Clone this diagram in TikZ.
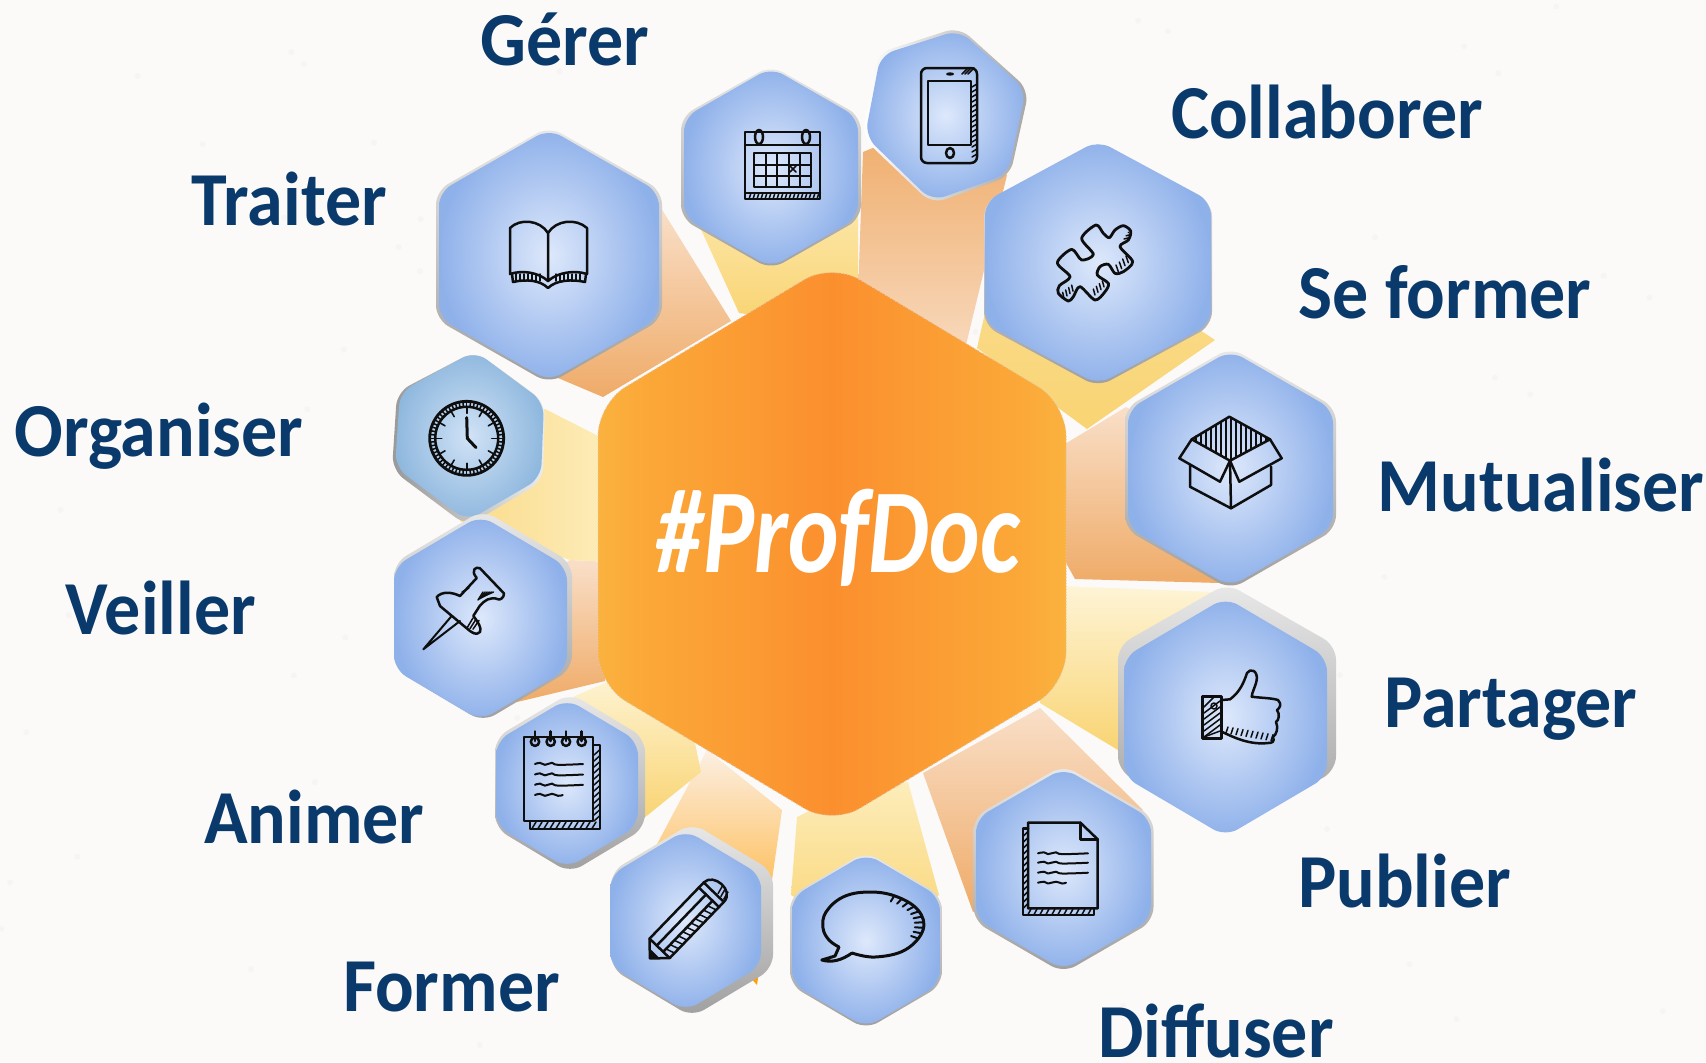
\documentclass[tikz,border=0pt]{standalone}
\usepackage{fontspec}
\usetikzlibrary{calc}
\setmainfont{Carlito}
\newfontfamily\proffont[ItalicFeatures={FakeSlant=0.1}]{Carlito}
\definecolor{bgc}{HTML}{FBFAF8}
\definecolor{labc}{HTML}{0A3A6B}
\definecolor{hexin}{HTML}{DDE8FB}
\definecolor{hexout}{HTML}{8FB1EA}
\definecolor{clockin}{HTML}{D0E2F6}
\definecolor{clockout}{HTML}{8FB8DE}
\definecolor{inkc}{HTML}{0E0E0E}
\definecolor{yA}{HTML}{FDEDBB}\definecolor{yB}{HTML}{F9D473}
\definecolor{pA}{HTML}{F9DFC8}\definecolor{pB}{HTML}{EFAB68}
\definecolor{coreA}{HTML}{FBB23E}\definecolor{coreB}{HTML}{FBA838}
\definecolor{coreC}{HTML}{FB9C33}\definecolor{coreD}{HTML}{FB8F2E}
\pgfdeclarehorizontalshading{coreshade}{100bp}{
  color(0bp)=(coreA);
  color(25bp)=(coreA);
  color(30bp)=(coreB);
  color(40bp)=(coreC);
  color(50bp)=(coreD);
  color(60bp)=(coreC);
  color(70bp)=(coreB);
  color(75bp)=(coreA);
  color(100bp)=(coreA)}
\newcommand{\hexpath}[4]{({#1},{#2-#4}) -- ({#1+#3},{#2-#4/2}) -- ({#1+#3},{#2+#4/2}) -- ({#1},{#2+#4}) -- ({#1-#3},{#2+#4/2}) -- ({#1-#3},{#2-#4/2}) -- cycle}
\tikzset{
  lab/.style={text=labc,font=\bfseries\fontsize{36}{36}\selectfont,anchor=base,inner sep=0pt,yscale=1.06},
  rim/.style={rounded corners=7pt,draw=none,top color=gray!18,bottom color=gray!75},
  face/.style={rounded corners=7pt,draw=none,inner color=hexin,outer color=hexout},
  ink/.style={draw=inkc,line width=1.25pt,line cap=round,line join=round},
  inkthin/.style={draw=inkc,line width=0.75pt,line cap=round,line join=round},
}
\begin{document}
\begin{tikzpicture}[x=0.5pt,y=-0.5pt]
\useasboundingbox (0,0) rectangle (1706,1062);
\fill[bgc] (0,0) rectangle (1706,1062);
% faint paper speckle
\pgfmathsetseed{11}
\foreach \i in {1,...,70}{
  \pgfmathsetmacro{\xx}{rnd*1706}\pgfmathsetmacro{\yy}{rnd*1062}
  \fill[gray!40,opacity=0.10] (\xx,\yy) circle[radius=3];
}
% ---------- rays
% Traiter
\shade[top color=pA,bottom color=pB,draw=none] (661,208) -- (731,321) -- (603,397) -- (558,378) -- (549,255) -- cycle;
% Gerer
\shade[top color=yA,bottom color=yB,draw=none] (689,203) -- (739,313) -- (790,320) -- (858,300) -- (858,200) -- (771,168) -- cycle;
% Telephone
\shade[top color=pB,bottom color=pA!85!pB,draw=none] (863,152) -- (858,295) -- (966,345) -- (1007,175) -- (940,120) -- cycle;
% Puzzle
\shade[top color=yB!80!white,bottom color=yB,draw=none] (985,313) -- (977,348) -- (1087,429) -- (1215,340) -- (1098,263) -- cycle;
% Mutualiser
\shade[top color=pA,bottom color=pB,draw=none] (1060,447) -- (1126,407) -- (1230,468) -- (1220,583) -- (1075,579) -- (1060,552) -- cycle;
% Partager
\shade[top color=yA!60!white,bottom color=yB,draw=none] (1060,586) -- (1213,592) -- (1225,717) -- (1118,750) -- (1040,703) -- (1040,590) -- cycle;
% Publier
\shade[top color=pA,bottom color=pB,draw=none] (923,773) -- (1040,708) -- (1143,810) -- (1063,869) -- (973,912) -- cycle;
% Diffuser
\shade[top color=yA,bottom color=yB,draw=none] (797,817) -- (832,800) -- (908,782) -- (939,895) -- (866,940) -- (791,895) -- cycle;
% Former
\shade[top color=pA!50!white,middle color=pA!70!pB,bottom color=orange!75!yellow,draw=none] (707,750) -- (782,810) -- (757,985) -- (700,920) -- (655,848) -- cycle;
% Animer
\shade[top color=yA!70!white,bottom color=yB,draw=none] (573,697) -- (607,682) -- (695,743) -- (701,772) -- (644,818) -- (567,783) -- cycle;
% Veiller
\shade[top color=pA,bottom color=pB,draw=none] (570,560) -- (610,562) -- (610,640) -- (605,681) -- (517,702) -- (480,618) -- cycle;
% Organiser
\shade[left color=yB!85!white,right color=yA,draw=none] (545,409) -- (610,442) -- (610,562) -- (570,560) -- (460,521) -- (467,440) -- cycle;
% ---------- centre
\shade[rounded corners=16pt,draw=none,shading=coreshade] \hexpath{832}{544}{234}{281};
\draw[rounded corners=16pt,draw=brown!45,line width=0.5pt,densely dotted] \hexpath{832}{544}{234}{281};
\node[text=white,inner sep=0pt,anchor=base,xscale=0.8] (prof) at (837.5,572) {\proffont\bfseries\itshape\fontsize{60}{60}\selectfont \#ProfDoc};
% ---------- hexagons
% Traiter
\shade[rim] \hexpath{549}{255}{113}{128.5};
\shade[face] \hexpath{549}{255}{110}{126};
% Gerer
\shade[rim] \hexpath{771}{167.5}{90}{102};
\shade[face] \hexpath{771}{167.5}{87}{100};
% Telephone
\shade[rounded corners=7pt,draw=none,left color=white,right color=gray!70] (959,27) -- (1029,90) -- (1010,176) -- (932,204) -- (862,137) -- (878,53) -- cycle;
\shade[rounded corners=7pt,draw=none,inner color=hexin,outer color=hexout] (959,30) -- (1026,90) -- (1008,174) -- (932,201) -- (865,136) -- (880.5,55) -- cycle;
% Puzzle
\shade[rim] \hexpath{1098}{264}{114}{123};
\shade[face] \hexpath{1098}{262.5}{113}{122};
% Mutualiser
\shade[rim] \hexpath{1230.5}{468.5}{105.5}{121};
\shade[face] \hexpath{1230.5}{468.5}{102.5}{118};
% Partager
\shade[rim] \hexpath{1227}{708}{109}{124.5};
\shade[face] \hexpath{1225.5}{717}{101.5}{119.5};
% Publier
\shade[rim] \hexpath{1063.5}{869}{90}{104};
\shade[face] \hexpath{1063.5}{869}{87.5}{101};
% Diffuser
\shade[rim] \hexpath{866}{940.5}{76}{89};
\shade[face] \hexpath{866}{940.5}{74}{87};
% Former
\shade[rim] \hexpath{692}{920}{81}{97};
\shade[face] \hexpath{685.6}{920.5}{75.6}{90.5};
% Animer
\shade[rim] \hexpath{570}{783}{75}{90};
\shade[face] \hexpath{567}{783.5}{71}{84.5};
% Organiser
\shade[rounded corners=7pt,draw=none,left color=gray!80,right color=gray!15] (475,351) -- (545,402) -- (543,481) -- (467,526) -- (392,470) -- (397,392) -- cycle;
\shade[rounded corners=7pt,draw=none,inner color=clockin,outer color=clockout] (475,351) -- (544,402) -- (541,478) -- (467,521) -- (395,467) -- (400,392) -- cycle;
% Veiller
\shade[rim] \hexpath{483}{616}{89}{106};
\shade[face] \hexpath{480.5}{618}{86.5}{102.5};
% ---------- icons
% book
\draw[ink] (548,233) .. controls (540,220) and (520,218) .. (510,228) -- (510,274) .. controls (522,270) and (538,272) .. (548,281);
\draw[ink] (548,233) .. controls (556,220) and (576,218) .. (587,228) -- (587,274) .. controls (575,270) and (558,272) .. (548,281) -- cycle;
\draw[ink] (512,274) -- (513,282) .. controls (526,279) and (540,280) .. (548,288) .. controls (556,280) and (572,279) .. (585,282) -- (586,274);
\foreach \x in {516,520,...,540}{\draw[inkthin] (\x,274) -- (\x,281);}
\foreach \x in {556,560,...,580}{\draw[inkthin] (\x,274) -- (\x,281);}
% calendar
\draw[ink] (745,132) rectangle (820,199);
\draw[ink] (745,145) -- (820,145);
\draw[ink] (745,193) -- (820,193);
\foreach \x in {749,753,...,817}{\draw[inkthin] (\x,199) -- (\x+2,193);}
\draw[ink] (759,137) ellipse[x radius=4,y radius=7];
\draw[ink] (806,137) ellipse[x radius=4,y radius=7];
\draw[inkthin,line width=1pt] (754,153) rectangle (811,187);
\foreach \x in {765.5,777,788.5,800}{\draw[inkthin,line width=1pt] (\x,153) -- (\x,187);}
\foreach \y in {165,176}{\draw[inkthin,line width=1pt] (754,\y) -- (811,\y);}
\draw[inkthin] (790,166) -- (796,172) (796,166) -- (790,172);
% phone
\draw[ink,rounded corners=3pt] (921,68) rectangle (977,163);
\draw[ink] (928,81) rectangle (971,145);
\fill[inkc] (950,74) ellipse[x radius=4,y radius=1.7];
\draw[ink] (950,153) ellipse[x radius=4,y radius=5];
\foreach \y in {84,89,...,155}{\draw[inkthin] (972,\y+3) -- (977,\y);}
\foreach \i in {0,3,6}{\draw[inkthin] (962+\i,74) -- (968+\i,68);}
% puzzle
\begin{scope}[shift={(1040,215)},x=0.16667pt,y=-0.16667pt]
\draw[ink,line width=1.4pt] plot[smooth cycle,tension=0.5] coordinates {(168,30) (190,55) (208,68) (225,45) (250,32) (272,48) (265,75) (240,95) (278,140) (250,170) (225,175) (205,148) (180,155) (172,180) (205,205) (195,230) (165,255) (120,215) (100,245) (85,258) (55,235) (58,212) (90,185) (52,143) (95,103) (125,135) (160,118) (125,70)};
\foreach \i in {0,10,20,30}{\draw[inkthin] (235+\i,170-\i*0.9) -- (228+\i,150-\i*0.9);}
\foreach \i in {0,8,16}{\draw[inkthin] (252+\i*0.8,72-\i*1.2) -- (268-\i*0.1,68-\i*1.0);}
\foreach \i in {0,9,18,27}{\draw[inkthin] (165+\i,240-\i*0.9) -- (160+\i,222-\i*0.9);}
\foreach \i in {0,9,18,27}{\draw[inkthin] (72+\i,250-\i*0.8) -- (68+\i,232-\i*0.8);}
\end{scope}
% box
\draw[ink] (1229.3,416.7) -- (1270,439.3) -- (1230,460.7) -- (1191.7,439.3) -- cycle;
\foreach \x in {1196,1201,...,1266}{
  \pgfmathsetmacro{\ya}{417+abs(\x-1230)*0.56}
  \pgfmathsetmacro{\yb}{460.5-abs(\x-1230)*0.54}
  \draw[inkthin] (\x,\ya) -- (\x,\yb);
}
\draw[ink] (1191.7,439.3) -- (1179.3,458.3) -- (1220,481.7) -- (1230,460.7) -- (1239.3,481.7) -- (1281.7,458.3) -- (1270,439.3);
\draw[ink] (1190,465) -- (1190,486.7) -- (1231,508.3) -- (1271,485) -- (1271,466.7);
\draw[ink] (1230,460.7) -- (1231,508.3);
% thumb
\draw[ink] (1202.7,696.7) rectangle (1221.7,738.3);
\foreach \i in {0,6,...,36}{\draw[inkthin] (1204,{min(737,707+\i)}) -- ({min(1220,1204+(707+\i-697))},{max(697,695+\i)});}
\draw[inkthin] (1214,706) circle[radius=3];
\draw[ink] (1221.7,700) -- (1230,699.3) .. controls (1240,692) and (1244,682) .. (1247,673) .. controls (1250,668) and (1258,670) .. (1256.7,680) .. controls (1255,688) and (1252,692) .. (1251.7,696.7) .. controls (1262,698) and (1272,698) .. (1278,700) .. controls (1282,704) and (1280,708) .. (1277,710) .. controls (1280,714) and (1279,720) .. (1276,722) .. controls (1279,728) and (1276,735) .. (1273,737) .. controls (1275,742) and (1272,743) .. (1268,743) .. controls (1250,745) and (1235,738) .. (1221.7,731.7);
\foreach \x in {1226,1231,...,1271}{\draw[inkthin] (\x,{733+(\x-1226)*0.17}) -- (\x+2,{727+(\x-1226)*0.17});}
% document
\draw[ink] (1028,822.7) -- (1080.4,822.7) -- (1097.7,839.3) -- (1097.7,908.3) -- (1028,908.3) -- cycle;
\draw[ink] (1080.4,822.7) -- (1080.4,839.3) -- (1097.7,839.3);
\draw[ink] (1028,828.3) -- (1023,828.3) -- (1023,915) -- (1094,915) -- (1094,908.3);
\foreach \y in {832,838,...,905}{\draw[inkthin] (1023.5,\y+4) -- (1027.5,\y);}
\foreach \x in {1028,1034,...,1090}{\draw[inkthin] (\x,914.5) -- (\x+3,909);}
\foreach \y/\e in {853.3/1088,862.7/1088,872.7/1088,882.7/1066}{
  \draw[inkthin,line width=1pt] plot[smooth,tension=0.7] coordinates {(1038,\y) (1044,\y-1) (1048,\y+0.8) (1056,\y-1) (1062,\y+0.8) (\e,\y)};
}
% speech bubble
\draw[ink,line width=1.5pt] plot[smooth,tension=0.65] coordinates {(852,953) (875,957) (905,950) (923,930) (918,910) (895,896) (868,892) (843,897) (826,912) (823,928) (829,940) (839,947)} -- (835,956) -- (821.8,960) .. controls (832,963) and (842,960) .. (852,953);
\foreach \a in {-65,-55,...,25}{\draw[inkthin,line width=1pt] ($(873,925)+(\a:50 and 32)$) -- ($(873,925)+(\a:42 and 26)$);}
% pencil
\begin{scope}[shift={(686,921)},rotate=46]
  \draw[ink] (-52,0) -- (-38,-14) -- (40,-14) .. controls (54,-14) and (56,14) .. (40,14) -- (-38,14) -- cycle;
  \draw[ink] (40,-14) -- (40,14);
  \draw[ink] (33,-14) -- (33,14);
  \draw[ink] (-38,-14) -- (-38,14);
  \draw[ink] (-38,-4) -- (33,-4);
  \draw[ink] (-38,5) -- (33,5);
  \fill[inkc] (-52,0) -- (-45,-7) -- (-45,7) -- cycle;
  \foreach \x in {-34,-28,...,30}{\draw[inkthin] (\x,5) -- (\x+3,14);}
  \foreach \y in {4,8,12}{\draw[inkthin] (42,\y) -- (50,\y-2);}
\end{scope}
% pin
\draw[ink] (436.7,597) .. controls (442,591) and (452,592) .. (460,596) -- (476.7,578) .. controls (470,570) and (476,566) .. (480,568.3) -- (504,593.4) .. controls (504,598) and (500,600) .. (498.3,599.3) .. controls (490,596) and (484,601) .. (480,605.5) -- (473.3,615.9) .. controls (478,622) and (482,628) .. (480,632) .. controls (476,636) and (472,632) .. (470,631) -- (440,606) -- cycle;
\draw[ink,line width=1pt] (451.7,615.9) -- (423.3,649.3) -- (460,621);
\draw[inkthin] (462,592) -- (469,588);
\foreach \i in {0,3,...,15}{\draw[inkthin] (478+\i*0.5,600-\i*0.3) -- (483+\i*0.7,592);}
\foreach \i in {0,3,6}{\draw[inkthin] (467+\i,628+\i*0.2) -- (473+\i,618+\i*0.4);}
% notepad
\draw[ink] (524,737) rectangle (593,821);
\draw[ink] (593,745) -- (600,745) -- (600,829) -- (530,829) -- (530,821);
\foreach \y in {750,756,...,816}{\draw[inkthin] (594,\y+5) -- (599.5,\y);}
\foreach \x in {532,538,...,592}{\draw[inkthin] (\x,828.5) -- (\x+4,822);}
\foreach \x in {535,550.7,566,581.7}{
  \draw[ink] (\x,741.7) circle[radius=4.2];
  \draw[ink] (\x,731.4) -- (\x,741);
}
\foreach \y/\e in {764/583,774.5/583,784.8/583,795/562.7}{
  \draw[inkthin,line width=1pt] plot[smooth,tension=0.7] coordinates {(535,\y) (540,\y-1.2) (545,\y+0.8) (552,\y-1.2) (558,\y+0.8) (\e,\y)};
}
% clock
\draw[ink,line width=1.4pt] (466.7,438.3) circle[radius=37];
\draw[ink] (466.7,438.3) circle[radius=31.5];
\foreach \a in {0,6,...,354}{\draw[inkthin] ($(466.7,438.3)+(\a:32)$) -- ($(466.7,438.3)+(\a:36.5)$);}
\foreach \a in {0,30,...,330}{\draw[ink,line width=0.8pt] ($(466.7,438.3)+(\a:31)$) -- ($(466.7,438.3)+(\a:25)$);}
\draw[ink,line width=1.5pt] (466.7,417.6) -- (467.3,438.3) -- (476,447.6);
% ---------- labels
\node[lab] (gerer) at (565,65) {Gérer};
\node[lab] (collaborer) at (1327,138) {Collaborer};
\node[lab] (traiter) at (289.4,225) {Traiter};
\node[lab] (seformer) at (1445,318) {Se former};
\node[lab] (organiser) at (159,456) {Organiser};
\node[lab] (mutualiser) at (1541,511) {Mutualiser};
\node[lab] (veiller) at (161,634) {Veiller};
\node[lab] (partager) at (1511,727) {Partager};
\node[lab] (animer) at (314.4,843) {Animer};
\node[lab] (publier) at (1404.6,907) {Publier};
\node[lab] (former) at (451.5,1011) {Former};
\node[lab] (diffuser) at (1216,1057) {Diffuser};
\end{tikzpicture}
\end{document}
